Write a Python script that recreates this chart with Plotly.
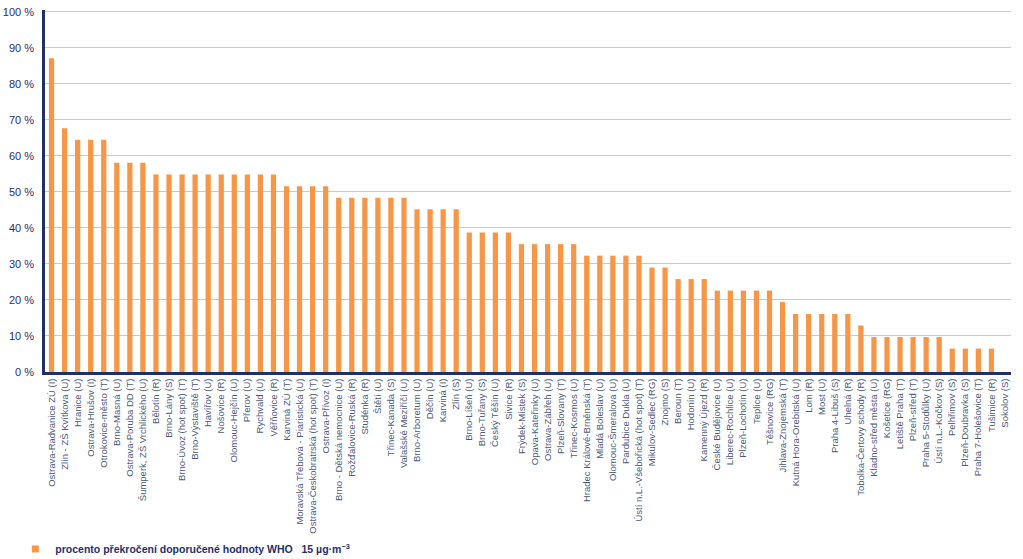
import plotly.graph_objects as go

stations = [
    "Ostrava-Radvanice ZÚ (I)", "Zlín - ZŠ Kvítkova (U)", "Hranice (U)", "Ostrava-Hrušov (I)",
    "Otrokovice-město (T)", "Brno-Masná (U)", "Ostrava-Poruba DD (T)", "Šumperk, ZŠ Vrchlického (U)",
    "Bělotín (R)", "Brno-Lány (S)", "Brno-Úvoz (hot spot) (T)", "Brno-Výstaviště (T)",
    "Havířov (U)", "Nošovice (R)", "Olomouc-Hejčín (U)", "Přerov (U)", "Rychvald (U)",
    "Věřňovice (R)", "Karviná ZÚ (T)", "Moravská Třebová - Piaristická (U)",
    "Ostrava-Českobratrská (hot spot) (T)", "Ostrava-Přívoz (I)", "Brno - Dětská nemocnice (U)",
    "Rožďalovice-Ruská (R)", "Studénka (R)", "Štětí (U)", "Třinec-Kanada (S)",
    "Valašské Meziříčí (U)", "Brno-Arboretum (U)", "Děčín (U)", "Karviná (I)", "Zlín (S)",
    "Brno-Líšeň (U)", "Brno-Tuřany (S)", "Český Těšín (U)", "Sivice (R)", "Frýdek-Místek (S)",
    "Opava-Kateřinky (U)", "Ostrava-Zábřeh (U)", "Plzeň-Slovany (T)", "Třinec-Kosmos (U)",
    "Hradec Králové-Brněnská (T)", "Mladá Boleslav (U)", "Olomouc-Šmeralova (U)",
    "Pardubice Dukla (U)", "Ústí n.L.-Všebořická (hot spot) (T)", "Mikulov-Sedlec (RG)",
    "Znojmo (S)", "Beroun (T)", "Hodonín (U)", "Kamenný Újezd (R)", "České Budějovice (U)",
    "Liberec-Rochlice (U)", "Plzeň-Lochotín (U)", "Teplice (U)", "Těšnovice (RG)",
    "Jihlava-Znojemská (T)", "Kutná Hora-Orebitská (U)", "Lom (R)", "Most (U)",
    "Praha 4-Libuš (S)", "Uhelná (R)", "Tobolka-Čertovy schody (R)", "Kladno-střed města (U)",
    "Košetice (RG)", "Letiště Praha (T)", "Plzeň-střed (T)", "Praha 5-Stodůlky (U)",
    "Ústí n.L.-Kočkov (S)", "Pelhřimov (S)", "Plzeň-Doubravka (S)", "Praha 7-Holešovice (T)",
    "Tušimice (R)", "Sokolov (S)",
]

percent = [
    87.1, 67.7, 64.5, 64.5, 64.5, 58.1, 58.1, 58.1,
    54.8, 54.8, 54.8, 54.8, 54.8, 54.8, 54.8, 54.8, 54.8, 54.8,
    51.6, 51.6, 51.6, 51.6,
    48.4, 48.4, 48.4, 48.4, 48.4, 48.4,
    45.2, 45.2, 45.2, 45.2,
    38.7, 38.7, 38.7, 38.7,
    35.5, 35.5, 35.5, 35.5, 35.5,
    32.3, 32.3, 32.3, 32.3, 32.3,
    29.0, 29.0,
    25.8, 25.8, 25.8,
    22.6, 22.6, 22.6, 22.6, 22.6,
    19.4,
    16.1, 16.1, 16.1, 16.1, 16.1,
    12.9,
    9.7, 9.7, 9.7, 9.7, 9.7, 9.7,
    6.5, 6.5, 6.5, 6.5,
    0.0,
]

y_ticks = [0, 10, 20, 30, 40, 50, 60, 70, 80, 90, 100]
y_tick_labels = [f"{v} %" for v in y_ticks]

series_name = "<b>procento překročení doporučené hodnoty WHO   15 µg·m<sup>−3</sup></b>"

NAVY = "#1F2F6B"
ORANGE = "#F79646"

fig = go.Figure()
fig.add_trace(go.Bar(
    x=stations, y=percent, name=series_name,
    marker=dict(color=ORANGE, line=dict(width=0)),
    width=0.4, showlegend=False, legendgroup="who",
))
# legend entry for the bar series (small square swatch)
fig.add_trace(go.Scatter(
    x=[None], y=[None], mode="markers", name=series_name,
    marker=dict(symbol="square", size=7, color=ORANGE),
    showlegend=True, legendgroup="who", hoverinfo="skip",
))

fig.update_layout(
    width=1023, height=559,
    margin=dict(l=45, r=12, t=10, b=187, autoexpand=False),
    paper_bgcolor="white", plot_bgcolor="white",
    font=dict(family="Arial, Liberation Sans, sans-serif", color=NAVY),
    showlegend=True,
    legend=dict(
        orientation="h", xref="container", yref="container",
        x=0.015, xanchor="left", y=0.018, yanchor="middle",
        font=dict(size=10.5, color=NAVY, family="Arial, Liberation Sans, sans-serif"),
        bgcolor="rgba(0,0,0,0)", itemwidth=30,
    ),
    bargap=0.6,
)
fig.update_xaxes(
    type="category", tickangle=-90,
    tickfont=dict(size=9.5, color="#4A5A7E"),
    showline=True, linecolor=NAVY, linewidth=2.5,
    ticks="", showgrid=False, range=[-0.5, len(stations) - 0.5],
    automargin=False,
)
fig.update_yaxes(
    range=[0, 100.5], tickvals=y_ticks, ticktext=y_tick_labels,
    tickfont=dict(size=11, color=NAVY),
    showline=True, linecolor=NAVY, linewidth=2.5,
    showgrid=True, gridcolor="#A9D6E5", gridwidth=1,
    ticks="", zeroline=False, ticklabelstandoff=6,
    ticklabeloverflow="allow",
    automargin=False,
)

# remove the browser's default 8px body margin so the figure fills the window
fig.write_html(
    "out.html",
    config={"displayModeBar": False},
    post_script="document.body.style.margin='0';",
)
